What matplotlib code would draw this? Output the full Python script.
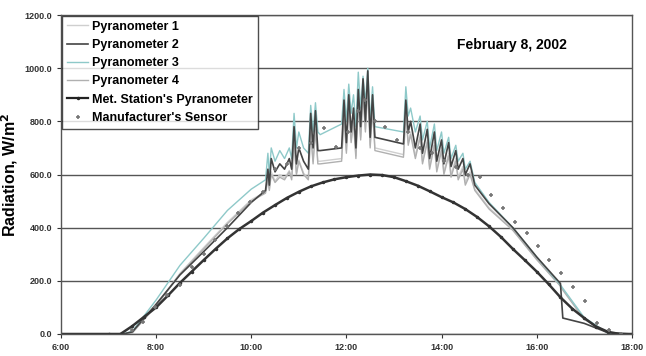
import matplotlib
matplotlib.use("Agg")
import matplotlib.pyplot as plt
from matplotlib.lines import Line2D

plt.rcParams["font.family"] = ["Liberation Sans", "DejaVu Sans"]
plt.rcParams["font.weight"] = "bold"

# time in decimal hours
t_pyr = [6.0, 7.3, 7.5, 8.0, 8.5, 9.0, 9.5, 10.0, 10.3, 10.35, 10.38, 10.42, 10.5,
         10.6, 10.7, 10.8, 10.85, 10.9, 10.95, 11.0, 11.1, 11.2, 11.25, 11.3, 11.35,
         11.4, 11.45, 11.9, 11.95, 12.0, 12.05, 12.1, 12.15, 12.2, 12.25, 12.3, 12.35,
         12.4, 12.45, 12.5, 12.55, 12.6, 13.2, 13.25, 13.3, 13.35, 13.45, 13.55, 13.6,
         13.7, 13.75, 13.85, 13.9, 14.0, 14.05, 14.15, 14.2, 14.3, 14.35, 14.45, 14.5,
         14.6, 14.7, 15.0, 15.5, 16.0, 16.4, 16.5, 16.55, 17.0, 17.5, 18.0]

pyr1 = [0, 0, 4, 108, 228, 325, 420, 505, 535, 590, 545, 610, 575,
        600, 585, 615, 590, 730, 605, 655, 605, 585, 770, 650, 780,
        650, 650, 660, 830, 690, 860, 730, 810, 670, 880, 740, 910,
        770, 940, 710, 860, 700, 675, 840, 720, 760, 670, 750, 650,
        730, 630, 720, 620, 700, 610, 680, 600, 660, 590, 630, 570,
        610, 545, 475, 392, 282, 200, 182, 170, 58, 3, 0]

pyr2 = [0, 0, 8, 112, 222, 310, 400, 495, 540, 620, 560, 660, 610,
        640, 620, 660, 620, 780, 640, 700, 650, 620, 830, 700, 840,
        690, 690, 700, 880, 720, 900, 760, 850, 700, 920, 780, 960,
        800, 990, 740, 900, 740, 715, 880, 760, 800, 700, 790, 680,
        770, 660, 760, 650, 730, 640, 720, 630, 690, 620, 660, 600,
        640, 560, 490, 400, 290, 210, 190, 60, 40, 5, 0]

pyr3 = [0, 0, 10, 128, 258, 360, 465, 545, 580, 680, 600, 700, 650,
        690, 660, 700, 660, 830, 700, 760, 700, 680, 860, 760, 870,
        760, 750, 790, 920, 800, 940, 830, 900, 780, 985, 850, 970,
        870, 1000, 800, 930, 780, 760, 930, 820, 850, 760, 820, 730,
        800, 700, 790, 690, 760, 680, 740, 660, 710, 650, 680, 620,
        650, 570, 495, 400, 290, 205, 185, 172, 62, 3, 0]

pyr4 = [0, 0, 5, 105, 225, 320, 415, 500, 530, 580, 540, 600, 570,
        590, 580, 610, 580, 720, 600, 650, 600, 580, 760, 640, 770,
        640, 640, 650, 820, 680, 850, 720, 800, 660, 870, 730, 900,
        760, 930, 700, 850, 690, 665, 830, 710, 750, 660, 740, 640,
        720, 620, 710, 610, 690, 600, 670, 590, 650, 580, 620, 560,
        600, 540, 470, 390, 280, 200, 180, 165, 55, 2, 0]

t_met = [6.0, 7.0, 7.25, 7.5, 7.75, 8.0, 8.25, 8.5, 8.75, 9.0, 9.25, 9.5, 9.75, 10.0,
         10.25, 10.5, 10.75, 11.0, 11.25, 11.5, 11.75, 12.0, 12.25, 12.5, 12.75,
         13.0, 13.25, 13.5, 13.75, 14.0, 14.25, 14.5, 14.75, 15.0, 15.25, 15.5,
         15.75, 16.0, 16.25, 16.5, 16.75, 17.0, 17.25, 17.5, 17.75, 18.0]
met = [0, 0, 0, 30, 65, 100, 145, 192, 235, 278, 320, 360, 395, 425,
       457, 485, 512, 535, 555, 570, 582, 590, 596, 600, 598,
       590, 575, 558, 537, 515, 495, 470, 440, 405, 365, 320,
       278, 235, 188, 138, 95, 60, 28, 8, 0, 0]

t_mfr = [7.49, 7.73, 7.98, 8.22, 8.5, 8.75, 9.0, 9.24, 9.48, 9.72, 9.97, 10.24,
         10.5, 10.75, 11.0, 11.25, 11.53, 11.78, 12.03, 12.25, 12.39, 12.6, 12.81,
         13.06, 13.3, 13.55, 13.8, 14.05, 14.3, 14.55, 14.8, 15.05, 15.29, 15.54,
         15.79, 16.02, 16.27, 16.52, 16.76, 17.01, 17.26, 17.53, 17.77]
mfr = [15, 45, 101, 147, 184, 252, 300, 353, 405, 455, 496, 534,
       620, 640, 700, 720, 774, 705, 760, 840, 880, 800, 778,
       729, 760, 700, 680, 650, 630, 600, 590, 523, 474, 421,
       380, 331, 278, 229, 177, 124, 41, 15, 0]

x_ticks = [6, 8, 10, 12, 14, 16, 18]
x_labels = ["6:00", "8:00", "10:00", "12:00", "14:00", "16:00", "18:00"]
y_ticks = [0, 200, 400, 600, 800, 1000, 1200]

fig = plt.figure(figsize=(6.46, 3.56), dpi=100)
ax = fig.add_axes([0.0944, 0.0618, 0.8836, 0.896])

ax.plot(t_pyr, pyr1, color="#cfcfcf", lw=1.0)
ax.plot(t_pyr, pyr4, color="#b0b0b0", lw=1.0)
ax.plot(t_pyr, pyr3, color="#8ec9c9", lw=1.0)
ax.plot(t_pyr, pyr2, color="#444444", lw=1.2)
ax.plot(t_met, met, color="#333333", lw=1.8, marker=".", ms=3)
ax.plot(t_mfr, mfr, ls="none", marker="+", ms=3, mew=1.2, color="#777777")

ax.set_xlim(6, 18)
ax.set_ylim(0, 1200)
ax.set_xticks(x_ticks)
ax.set_xticklabels(x_labels)
ax.set_yticks(y_ticks)
ax.set_yticklabels([f"{v:.1f}" for v in y_ticks])
ax.tick_params(labelsize=6.5, length=3, width=0.8, colors="#333333")
ax.yaxis.grid(True, color="#555555", lw=1.0)
ax.set_axisbelow(True)
for s in ax.spines.values():
    s.set_color("#555555")
    s.set_linewidth(1.0)

ax.set_ylabel("Radiation, W/m$^\\mathbf{2}$", fontsize=11.5, fontweight="bold", labelpad=3)
ax.text(0.79, 0.905, "February 8, 2002", transform=ax.transAxes,
        fontsize=10, fontweight="bold", ha="center", va="center")

handles = [
    Line2D([], [], color="#cfcfcf", lw=1.0),
    Line2D([], [], color="#444444", lw=1.2),
    Line2D([], [], color="#8ec9c9", lw=1.0),
    Line2D([], [], color="#b0b0b0", lw=1.0),
    Line2D([], [], color="#222222", lw=1.6, marker=".", ms=3),
    Line2D([], [], ls="none", marker="+", ms=3, mew=1.2, color="#777777"),
]
names = ["Pyranometer 1", "Pyranometer 2", "Pyranometer 3", "Pyranometer 4",
         "Met. Station's Pyranometer", "Manufacturer's Sensor"]
leg = ax.legend(handles, names, loc="upper left", bbox_to_anchor=(0.002, 0.998),
                fontsize=9, frameon=True, fancybox=False, handlelength=1.7,
                handletextpad=0.3, labelspacing=0.5, borderpad=0.4,
                borderaxespad=0)
leg.get_frame().set_edgecolor("#222222")
leg.get_frame().set_linewidth(1.0)
for txt in leg.get_texts():
    txt.set_fontweight("bold")

fig.savefig("out.png", dpi=100)
